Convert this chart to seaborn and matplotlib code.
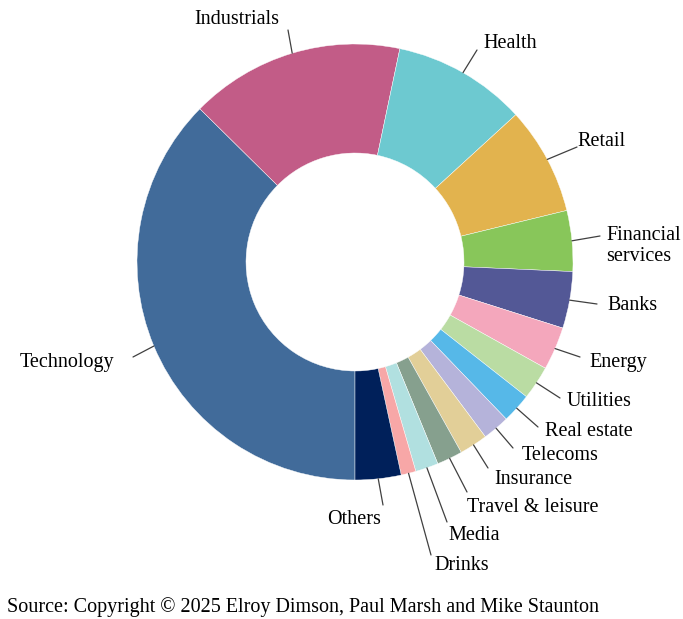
import matplotlib
matplotlib.use("Agg")
import matplotlib.pyplot as plt
import numpy as np
import seaborn as sns

sns.set_style("white")
plt.rcParams["font.family"] = ["Liberation Serif", "DejaVu Serif"]

# sector shares (%), clockwise from 6 o'clock
sectors = [
    "Technology", "Industrials", "Health", "Retail", "Financial\nservices",
    "Banks", "Energy", "Utilities", "Real estate", "Telecoms", "Insurance",
    "Travel & leisure", "Media", "Drinks", "Others",
]
shares = [37.4, 15.9, 9.9, 8.0, 4.5, 4.2, 3.2, 2.5, 2.2, 2.0, 2.1, 1.9, 1.7, 1.1, 3.4]
colors = [
    "#416B9A", "#C25C87", "#6DC9D0", "#E2B34E", "#88C65A",
    "#535896", "#F4A7BC", "#BADCA3", "#56B8E8", "#B5B3DA",
    "#E2CF98", "#86A08E", "#B1E0E0", "#F7A7A7", "#00205A",
]

# label layout in pixels: leader line end, text anchor, alignment
line_end_px = [
    (133, 357), (288, 30), (477, 50), (577, 147), (600, 236),
    (597, 304), (580, 357), (560, 398), (538, 427), (513, 448),
    (488, 468), (467, 492), (447, 522), (431, 555), (383, 505),
]
text_px = [
    (114, 362), (279, 19), (483, 44), (577, 141), (606, 246),
    (607, 305), (589, 363), (567, 402), (545, 432), (522, 456),
    (494, 479), (467, 507), (448, 536), (434, 566), (354, 520),
]
text_ha = ["right", "right"] + ["left"] * 12 + ["center"]

W, H = 683, 619
CX, CY, R = 355, 262, 218


def to_data(p):
    return ((p[0] - CX) / R, (CY - p[1]) / R)


fig = plt.figure(figsize=(W / 100, H / 100), dpi=100)
ax = fig.add_axes([0, 0, 1, 1])

wedges, _ = ax.pie(
    shares,
    colors=colors,
    startangle=-90,
    counterclock=False,
    radius=1.0,
    wedgeprops=dict(width=0.5, edgecolor="white", linewidth=0.3),
)

for i, w in enumerate(wedges):
    mid = np.deg2rad((w.theta1 + w.theta2) / 2)
    start = (np.cos(mid), np.sin(mid))
    end = to_data(line_end_px[i])
    ax.plot([start[0], end[0]], [start[1], end[1]], color="#404040", lw=0.9)
    tx, ty = to_data(text_px[i])
    ax.text(tx, ty, sectors[i], ha=text_ha[i], va="center", fontsize=14.5,
            color="black", linespacing=1.2)

sx, sy = to_data((7, 607))
ax.text(sx, sy, "Source: Copyright \u00a9 2025 Elroy Dimson, Paul Marsh and Mike Staunton",
        ha="left", va="center", fontsize=14.5, color="black")

ax.set_xlim(-CX / R, (W - CX) / R)
ax.set_ylim((CY - H) / R, CY / R)
ax.set_aspect("equal")
ax.axis("off")

fig.savefig("out.png", dpi=100)
